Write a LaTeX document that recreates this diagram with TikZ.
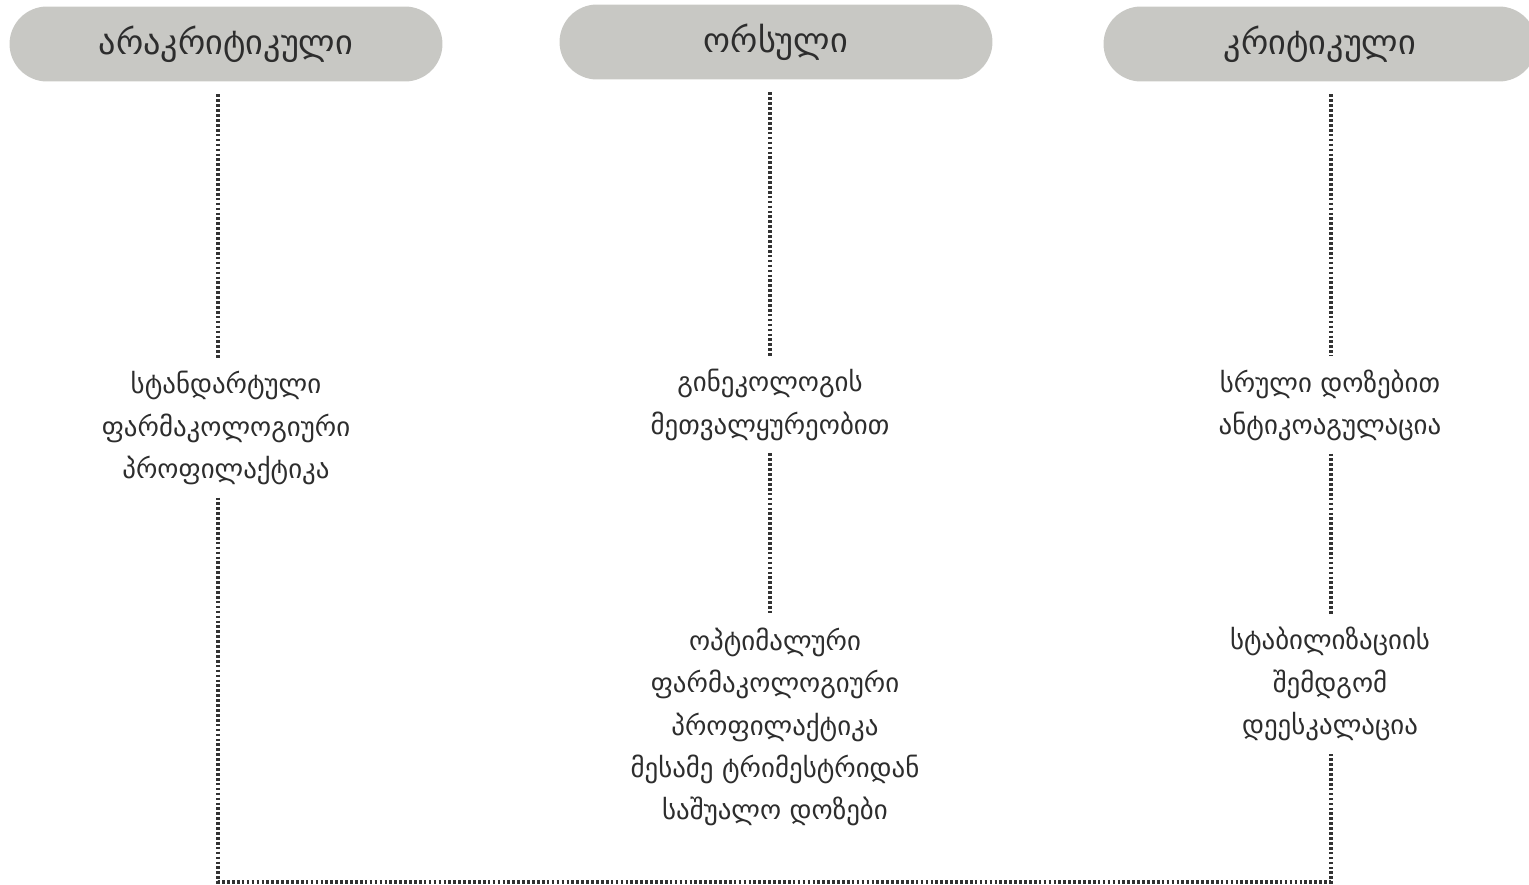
\documentclass[tikz,border=0pt]{standalone}
\usepackage{fontspec}
\usepackage{xcolor}
\usetikzlibrary{positioning, calc}
\setmainfont{DejaVu Sans}
\newfontfamily\geofont[Script=Georgian]{DejaVu Sans}
\definecolor{pillgray}{RGB}{200, 200, 196}
\definecolor{inkgray}{RGB}{45, 45, 45}
\definecolor{dotgray}{RGB}{50, 50, 50}

\begin{document}
\begin{tikzpicture}[
    x=0.02cm, y=-0.02cm,
    header/.style={rounded corners=0.75cm, fill=pillgray, minimum width=8.66cm, minimum height=1.5cm, font=\geofont\fontsize{19.5}{24}\selectfont, text=inkgray, outer sep=0.26cm},
    step box/.style={align=center, font=\geofont\fontsize{15.3}{24}\selectfont, text=inkgray, inner sep=0pt, outer sep=0.26cm},
    link/.style={dotgray, line width=2.2pt, dash pattern=on 1.5pt off 1.3pt}
]
    \useasboundingbox (0,0) rectangle (1529,885);

    % Headers
    \node[header] (noncrit) at (226,44) {არაკრიტიკული};
    \node[header] (pregnant) at (776,42) {ორსული};
    \node[header] (crit) at (1320,44) {კრიტიკული};

    % Steps
    \node[step box] (standard) at (226,428) {სტანდარტული\\ფარმაკოლოგიური\\პროფილაქტიკა};
    \node[step box] (gyneco) at (770,405) {გინეკოლოგის\\მეთვალყურეობით};
    \node[step box] (optimal) at (775,727) {ოპტიმალური\\ფარმაკოლოგიური\\პროფილაქტიკა\\მესამე ტრიმესტრიდან\\საშუალო დოზები};
    \node[step box] (fulldose) at (1330,405) {სრული დოზებით\\ანტიკოაგულაცია};
    \node[step box] (deescal) at (1330,684) {სტაბილიზაციის\\შემდგომ\\დეესკალაცია};

    % Line columns
    \coordinate (colL) at (218,0);
    \coordinate (colM) at (770,0);
    \coordinate (colR) at (1331,0);
    \coordinate (bottom) at (0,882);

    % Connections
    \draw[link] (noncrit.south -| colL) -- (standard.north -| colL);
    \draw[link] (pregnant.south -| colM) -- (gyneco.north -| colM);
    \draw[link] (gyneco.south -| colM) -- (optimal.north -| colM);
    \draw[link] (crit.south -| colR) -- (fulldose.north -| colR);
    \draw[link] (fulldose.south -| colR) -- (deescal.north -| colR);
    \draw[link] (standard.south -| colL) -- (bottom -| colL) -- (bottom -| colR) -- (deescal.south -| colR);

\end{tikzpicture}
\end{document}
